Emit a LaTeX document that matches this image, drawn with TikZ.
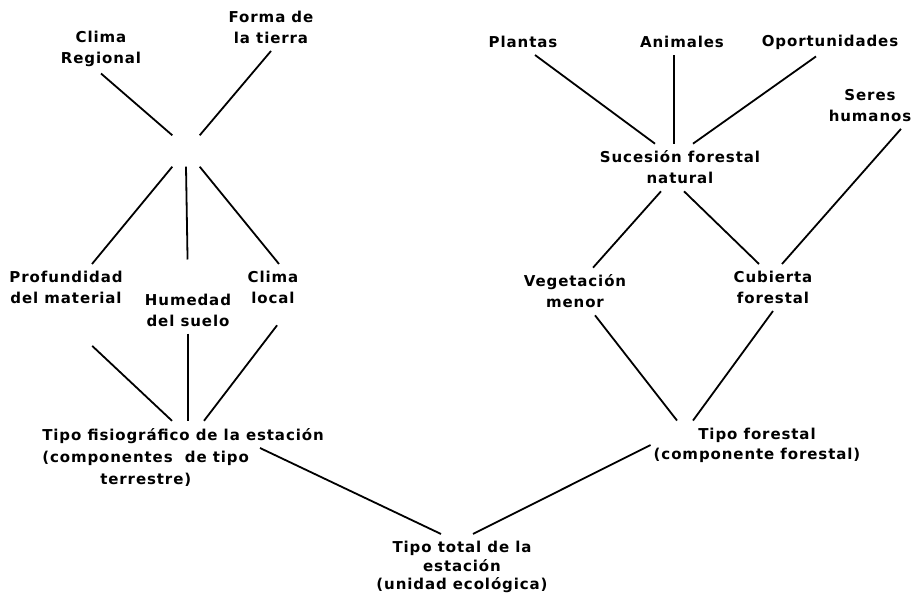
\documentclass[tikz,border=0pt]{standalone}
\usepackage{fontspec}
\setmainfont{DejaVu Sans}[LetterSpace=6]
\begin{document}
\begin{tikzpicture}[x=1pt, y=-1pt,
    factor/.style={font=\bfseries\fontsize{15}{21}\selectfont, align=center,
                   inner xsep=3pt, inner ysep=7pt},
    link/.style={line width=1.8pt}]
    \useasboundingbox (0, 0) rectangle (915, 593);

    % Clima regional y forma de la tierra
    \node [factor] (clima) at (101, 48.5) {Clima\\Regional};
    \node [factor] (forma) at (271, 27.5) {Forma de\\la tierra};
    \node [inner sep=0, minimum width=27, minimum height=31] (mix) at (186, 151) {};

    % Factores locales
    \node [factor] (prof) at (66, 287.5) {Profundidad\\del material};
    \node [factor] (hum) at (188, 310) {Humedad\\del suelo};
    \node [factor] (clocal) at (273, 287.5) {Clima\\local};

    % Tipo fisiografico
    \node [factor, align=left, font=\bfseries\fontsize{15}{22}\selectfont] (fisio) at (183, 457)
          {Tipo fisiográfico de la estación\\(componentes\ \ de tipo\\\hspace*{58pt}terrestre)};
    \coordinate (fisio-out) at ([shift={(77,-9)}]fisio.center);

    % Edges
    \draw [link] (clima.south) -- (mix.north west);
    \draw [link] (forma.south) -- (mix.north east);
    \draw [link] (mix.south west) -- ([xshift=26]prof.north);
    \draw [link, shorten >=27] (mix.south) -- (hum.north);
    \draw [link] (mix.south east) -- ([xshift=6]clocal.north);
    \draw [link, shorten <=51] ([xshift=-11]prof.south) -- ([xshift=-11]fisio.north);
    \draw [link] (hum.south) -- ([xshift=5]fisio.north);
    \draw [link, shorten <=18] ([xshift=15]clocal.south) -- ([xshift=21]fisio.north);

    % Plantas, animales y oportunidades
    \node [factor] (plantas) at (523, 42) {Plantas};
    \node [factor] (animales) at (682, 42) {Animales};
    \node [factor] (oport) at (830, 42) {Oportunidades};
    \node [factor] (seres) at (870, 105.5) {Seres\\humanos};

    % Sucesion y cubierta
    \node [factor] (sucesion) at (680, 167.5) {Sucesión forestal\\natural};
    \node [factor] (veget) at (575, 291.5) {Vegetación\\menor};
    \node [factor] (cubierta) at (773, 287.5) {Cubierta\\forestal};
    \node [factor, font=\bfseries\fontsize{15}{20}\selectfont] (tforestal) at (757, 445)
          {Tipo forestal\\(componente forestal)};

    % Edges
    \draw [link] ([xshift=12]plantas.south) -- ([xshift=-25]sucesion.north);
    \draw [link] ([xshift=-8]animales.south) -- ([xshift=-6]sucesion.north);
    \draw [link] ([xshift=-14]oport.south) -- ([xshift=13]sucesion.north);
    \draw [link] ([xshift=-19]sucesion.south) -- ([xshift=18]veget.north);
    \draw [link] ([xshift=4]sucesion.south) -- ([xshift=-14]cubierta.north);
    \draw [link] ([xshift=31]seres.south) -- ([xshift=9]cubierta.north);
    \draw [link] ([xshift=20]veget.south) -- ([xshift=-80]tforestal.north);
    \draw [link] (cubierta.south) -- ([xshift=-64]tforestal.north);

    % Tipo total
    \node [factor, font=\bfseries\fontsize{15}{18.5}\selectfont] (total) at (462, 567)
          {Tipo total de la\\estación\\(unidad ecológica)};

    % Edges
    \draw [link] (fisio-out) -- ([xshift=-21]total.north);
    \draw [link] (tforestal.west) -- ([xshift=11]total.north);
\end{tikzpicture}
\end{document}
